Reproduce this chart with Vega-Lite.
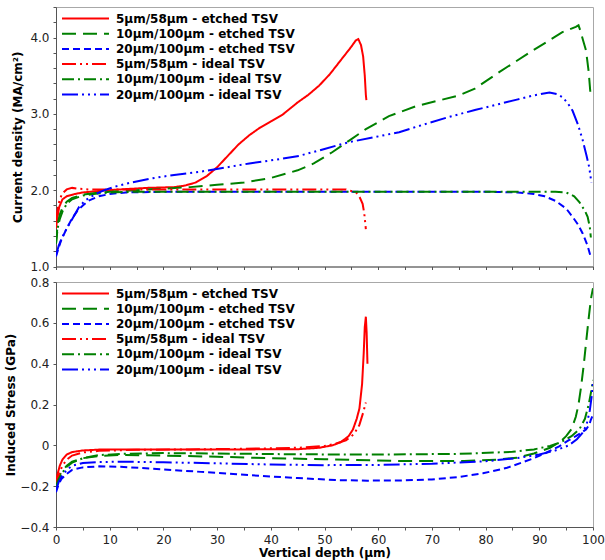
{
"$schema": "https://vega.github.io/schema/vega-lite/v6.json",
"padding": {"left": 4, "top": 6, "right": 8, "bottom": 1},
"bounds": "flush",
"spacing": 15,
"config": {
  "font": "DejaVu Sans",
  "view": {"stroke": "#a8a8a8", "strokeWidth": 1},
  "axis": {"labelFont": "DejaVu Sans", "labelFontSize": 12, "labelColor": "#222", "titleFont": "DejaVu Sans", "titleFontSize": 12, "titleFontWeight": "bold", "titleColor": "#000", "domainColor": "#555", "tickColor": "#555", "grid": false, "tickSize": 3, "labelPadding": 4, "labelFlush": false},
  "legend": {"orient": "top-left", "offset": 5, "padding": 0, "title": null, "symbolType": "stroke", "symbolSize": 2209, "symbolStrokeWidth": 2, "clipHeight": 13, "rowPadding": 2.2, "labelFont": "DejaVu Sans", "labelFontSize": 12, "labelFontWeight": "bold", "labelColor": "#000", "labelOffset": 6, "labelLimit": 400}
},
"datasets": {
"top": [
{"series":"5µm/58µm - etched TSV","depth":0,"value":1.50},
{"series":"5µm/58µm - etched TSV","depth":0.3,"value":1.66},
{"series":"5µm/58µm - etched TSV","depth":0.6,"value":1.78},
{"series":"5µm/58µm - etched TSV","depth":1.2,"value":1.88},
{"series":"5µm/58µm - etched TSV","depth":2,"value":1.92},
{"series":"5µm/58µm - etched TSV","depth":3.5,"value":1.95},
{"series":"5µm/58µm - etched TSV","depth":5,"value":1.97},
{"series":"5µm/58µm - etched TSV","depth":8,"value":1.99},
{"series":"5µm/58µm - etched TSV","depth":12,"value":2.01},
{"series":"5µm/58µm - etched TSV","depth":17,"value":2.03},
{"series":"5µm/58µm - etched TSV","depth":22,"value":2.04},
{"series":"5µm/58µm - etched TSV","depth":24,"value":2.06},
{"series":"5µm/58µm - etched TSV","depth":26,"value":2.10},
{"series":"5µm/58µm - etched TSV","depth":28,"value":2.18},
{"series":"5µm/58µm - etched TSV","depth":30,"value":2.30},
{"series":"5µm/58µm - etched TSV","depth":32,"value":2.45},
{"series":"5µm/58µm - etched TSV","depth":34,"value":2.60},
{"series":"5µm/58µm - etched TSV","depth":36,"value":2.72},
{"series":"5µm/58µm - etched TSV","depth":38,"value":2.82},
{"series":"5µm/58µm - etched TSV","depth":40,"value":2.90},
{"series":"5µm/58µm - etched TSV","depth":42.2,"value":2.99},
{"series":"5µm/58µm - etched TSV","depth":45,"value":3.15},
{"series":"5µm/58µm - etched TSV","depth":47,"value":3.25},
{"series":"5µm/58µm - etched TSV","depth":49,"value":3.37},
{"series":"5µm/58µm - etched TSV","depth":51,"value":3.52},
{"series":"5µm/58µm - etched TSV","depth":53,"value":3.70},
{"series":"5µm/58µm - etched TSV","depth":55,"value":3.88},
{"series":"5µm/58µm - etched TSV","depth":55.8,"value":3.96},
{"series":"5µm/58µm - etched TSV","depth":56.3,"value":3.98},
{"series":"5µm/58µm - etched TSV","depth":56.8,"value":3.90},
{"series":"5µm/58µm - etched TSV","depth":57.2,"value":3.75},
{"series":"5µm/58µm - etched TSV","depth":57.5,"value":3.50},
{"series":"5µm/58µm - etched TSV","depth":57.7,"value":3.25},
{"series":"5µm/58µm - etched TSV","depth":57.8,"value":3.18},
{"series":"10µm/100µm - etched TSV","depth":0,"value":1.30},
{"series":"10µm/100µm - etched TSV","depth":0.3,"value":1.55},
{"series":"10µm/100µm - etched TSV","depth":0.7,"value":1.68},
{"series":"10µm/100µm - etched TSV","depth":1.2,"value":1.77},
{"series":"10µm/100µm - etched TSV","depth":2,"value":1.85},
{"series":"10µm/100µm - etched TSV","depth":3,"value":1.90},
{"series":"10µm/100µm - etched TSV","depth":5,"value":1.94},
{"series":"10µm/100µm - etched TSV","depth":7,"value":1.96},
{"series":"10µm/100µm - etched TSV","depth":10,"value":1.98},
{"series":"10µm/100µm - etched TSV","depth":15,"value":2.00},
{"series":"10µm/100µm - etched TSV","depth":20,"value":2.02},
{"series":"10µm/100µm - etched TSV","depth":25,"value":2.04},
{"series":"10µm/100µm - etched TSV","depth":30,"value":2.07},
{"series":"10µm/100µm - etched TSV","depth":35,"value":2.10},
{"series":"10µm/100µm - etched TSV","depth":40,"value":2.16},
{"series":"10µm/100µm - etched TSV","depth":45,"value":2.26},
{"series":"10µm/100µm - etched TSV","depth":48,"value":2.35},
{"series":"10µm/100µm - etched TSV","depth":51.5,"value":2.50},
{"series":"10µm/100µm - etched TSV","depth":54.6,"value":2.65},
{"series":"10µm/100µm - etched TSV","depth":57.7,"value":2.80},
{"series":"10µm/100µm - etched TSV","depth":62,"value":2.97},
{"series":"10µm/100µm - etched TSV","depth":67,"value":3.10},
{"series":"10µm/100µm - etched TSV","depth":71,"value":3.17},
{"series":"10µm/100µm - etched TSV","depth":75,"value":3.24},
{"series":"10µm/100µm - etched TSV","depth":78,"value":3.33},
{"series":"10µm/100µm - etched TSV","depth":82.6,"value":3.55},
{"series":"10µm/100µm - etched TSV","depth":88.8,"value":3.83},
{"series":"10µm/100µm - etched TSV","depth":94.3,"value":4.07},
{"series":"10µm/100µm - etched TSV","depth":96.8,"value":4.14},
{"series":"10µm/100µm - etched TSV","depth":97.3,"value":4.16},
{"series":"10µm/100µm - etched TSV","depth":97.6,"value":4.10},
{"series":"10µm/100µm - etched TSV","depth":98.2,"value":3.95},
{"series":"10µm/100µm - etched TSV","depth":98.7,"value":3.83},
{"series":"10µm/100µm - etched TSV","depth":99.2,"value":3.55},
{"series":"10µm/100µm - etched TSV","depth":99.6,"value":3.20},
{"series":"20µm/100µm - etched TSV","depth":0,"value":1.13},
{"series":"20µm/100µm - etched TSV","depth":0.5,"value":1.25},
{"series":"20µm/100µm - etched TSV","depth":1,"value":1.35},
{"series":"20µm/100µm - etched TSV","depth":2,"value":1.50},
{"series":"20µm/100µm - etched TSV","depth":3,"value":1.63},
{"series":"20µm/100µm - etched TSV","depth":4,"value":1.73},
{"series":"20µm/100µm - etched TSV","depth":5,"value":1.80},
{"series":"20µm/100µm - etched TSV","depth":6,"value":1.86},
{"series":"20µm/100µm - etched TSV","depth":8,"value":1.92},
{"series":"20µm/100µm - etched TSV","depth":10,"value":1.95},
{"series":"20µm/100µm - etched TSV","depth":13,"value":1.97},
{"series":"20µm/100µm - etched TSV","depth":20,"value":1.98},
{"series":"20µm/100µm - etched TSV","depth":40,"value":1.98},
{"series":"20µm/100µm - etched TSV","depth":60,"value":1.98},
{"series":"20µm/100µm - etched TSV","depth":80,"value":1.98},
{"series":"20µm/100µm - etched TSV","depth":86,"value":1.97},
{"series":"20µm/100µm - etched TSV","depth":89,"value":1.95},
{"series":"20µm/100µm - etched TSV","depth":91,"value":1.92},
{"series":"20µm/100µm - etched TSV","depth":93,"value":1.86},
{"series":"20µm/100µm - etched TSV","depth":95,"value":1.76},
{"series":"20µm/100µm - etched TSV","depth":96.2,"value":1.65},
{"series":"20µm/100µm - etched TSV","depth":97.2,"value":1.55},
{"series":"20µm/100µm - etched TSV","depth":98.1,"value":1.43},
{"series":"20µm/100µm - etched TSV","depth":99,"value":1.27},
{"series":"20µm/100µm - etched TSV","depth":99.6,"value":1.12},
{"series":"5µm/58µm - ideal TSV","depth":0,"value":1.60},
{"series":"5µm/58µm - ideal TSV","depth":0.3,"value":1.75},
{"series":"5µm/58µm - ideal TSV","depth":0.7,"value":1.88},
{"series":"5µm/58µm - ideal TSV","depth":1.2,"value":1.96},
{"series":"5µm/58µm - ideal TSV","depth":2,"value":2.01},
{"series":"5µm/58µm - ideal TSV","depth":3,"value":2.03},
{"series":"5µm/58µm - ideal TSV","depth":4,"value":2.02},
{"series":"5µm/58µm - ideal TSV","depth":6,"value":2.01},
{"series":"5µm/58µm - ideal TSV","depth":10,"value":2.01},
{"series":"5µm/58µm - ideal TSV","depth":20,"value":2.01},
{"series":"5µm/58µm - ideal TSV","depth":30,"value":2.01},
{"series":"5µm/58µm - ideal TSV","depth":40,"value":2.01},
{"series":"5µm/58µm - ideal TSV","depth":50,"value":2.01},
{"series":"5µm/58µm - ideal TSV","depth":54,"value":2.01},
{"series":"5µm/58µm - ideal TSV","depth":55.9,"value":1.97},
{"series":"5µm/58µm - ideal TSV","depth":56.6,"value":1.90},
{"series":"5µm/58µm - ideal TSV","depth":57.1,"value":1.82},
{"series":"5µm/58µm - ideal TSV","depth":57.4,"value":1.70},
{"series":"5µm/58µm - ideal TSV","depth":57.7,"value":1.49},
{"series":"10µm/100µm - ideal TSV","depth":0,"value":1.30},
{"series":"10µm/100µm - ideal TSV","depth":0.3,"value":1.50},
{"series":"10µm/100µm - ideal TSV","depth":0.7,"value":1.62},
{"series":"10µm/100µm - ideal TSV","depth":1.2,"value":1.72},
{"series":"10µm/100µm - ideal TSV","depth":2,"value":1.82},
{"series":"10µm/100µm - ideal TSV","depth":3,"value":1.88},
{"series":"10µm/100µm - ideal TSV","depth":5,"value":1.93},
{"series":"10µm/100µm - ideal TSV","depth":7,"value":1.95},
{"series":"10µm/100µm - ideal TSV","depth":10,"value":1.97},
{"series":"10µm/100µm - ideal TSV","depth":15,"value":1.98},
{"series":"10µm/100µm - ideal TSV","depth":30,"value":1.98},
{"series":"10µm/100µm - ideal TSV","depth":50,"value":1.98},
{"series":"10µm/100µm - ideal TSV","depth":70,"value":1.98},
{"series":"10µm/100µm - ideal TSV","depth":90,"value":1.98},
{"series":"10µm/100µm - ideal TSV","depth":93,"value":1.98},
{"series":"10µm/100µm - ideal TSV","depth":95,"value":1.97},
{"series":"10µm/100µm - ideal TSV","depth":96.5,"value":1.92},
{"series":"10µm/100µm - ideal TSV","depth":97.5,"value":1.84},
{"series":"10µm/100µm - ideal TSV","depth":98.5,"value":1.73},
{"series":"10µm/100µm - ideal TSV","depth":99,"value":1.65},
{"series":"10µm/100µm - ideal TSV","depth":99.4,"value":1.52},
{"series":"10µm/100µm - ideal TSV","depth":99.6,"value":1.38},
{"series":"20µm/100µm - ideal TSV","depth":0,"value":1.15},
{"series":"20µm/100µm - ideal TSV","depth":0.5,"value":1.27},
{"series":"20µm/100µm - ideal TSV","depth":1,"value":1.36},
{"series":"20µm/100µm - ideal TSV","depth":2,"value":1.50},
{"series":"20µm/100µm - ideal TSV","depth":3,"value":1.62},
{"series":"20µm/100µm - ideal TSV","depth":4.3,"value":1.78},
{"series":"20µm/100µm - ideal TSV","depth":5.5,"value":1.87},
{"series":"20µm/100µm - ideal TSV","depth":7.4,"value":1.95},
{"series":"20µm/100µm - ideal TSV","depth":9,"value":2.00},
{"series":"20µm/100µm - ideal TSV","depth":11.2,"value":2.05},
{"series":"20µm/100µm - ideal TSV","depth":14,"value":2.10},
{"series":"20µm/100µm - ideal TSV","depth":17.4,"value":2.15},
{"series":"20µm/100µm - ideal TSV","depth":22,"value":2.20},
{"series":"20µm/100µm - ideal TSV","depth":26.7,"value":2.24},
{"series":"20µm/100µm - ideal TSV","depth":31,"value":2.29},
{"series":"20µm/100µm - ideal TSV","depth":36,"value":2.35},
{"series":"20µm/100µm - ideal TSV","depth":41,"value":2.40},
{"series":"20µm/100µm - ideal TSV","depth":45.3,"value":2.45},
{"series":"20µm/100µm - ideal TSV","depth":50,"value":2.54},
{"series":"20µm/100µm - ideal TSV","depth":54.6,"value":2.63},
{"series":"20µm/100µm - ideal TSV","depth":59,"value":2.69},
{"series":"20µm/100µm - ideal TSV","depth":63.9,"value":2.76},
{"series":"20µm/100µm - ideal TSV","depth":68,"value":2.85},
{"series":"20µm/100µm - ideal TSV","depth":73.2,"value":2.96},
{"series":"20µm/100µm - ideal TSV","depth":78,"value":3.05},
{"series":"20µm/100µm - ideal TSV","depth":82.6,"value":3.13},
{"series":"20µm/100µm - ideal TSV","depth":86,"value":3.19},
{"series":"20µm/100µm - ideal TSV","depth":88.8,"value":3.24},
{"series":"20µm/100µm - ideal TSV","depth":91.9,"value":3.28},
{"series":"20µm/100µm - ideal TSV","depth":93.3,"value":3.26},
{"series":"20µm/100µm - ideal TSV","depth":94.3,"value":3.22},
{"series":"20µm/100µm - ideal TSV","depth":95.3,"value":3.14},
{"series":"20µm/100µm - ideal TSV","depth":96.2,"value":3.04},
{"series":"20µm/100µm - ideal TSV","depth":97.2,"value":2.86},
{"series":"20µm/100µm - ideal TSV","depth":98.1,"value":2.65},
{"series":"20µm/100µm - ideal TSV","depth":98.8,"value":2.45},
{"series":"20µm/100µm - ideal TSV","depth":99.3,"value":2.30},
{"series":"20µm/100µm - ideal TSV","depth":99.7,"value":2.10}
],
"bottom": [
{"series":"5µm/58µm - etched TSV","depth":0,"value":-0.18},
{"series":"5µm/58µm - etched TSV","depth":0.3,"value":-0.14},
{"series":"5µm/58µm - etched TSV","depth":0.7,"value":-0.10},
{"series":"5µm/58µm - etched TSV","depth":1.2,"value":-0.07},
{"series":"5µm/58µm - etched TSV","depth":2,"value":-0.045},
{"series":"5µm/58µm - etched TSV","depth":3,"value":-0.033},
{"series":"5µm/58µm - etched TSV","depth":5,"value":-0.025},
{"series":"5µm/58µm - etched TSV","depth":8,"value":-0.021},
{"series":"5µm/58µm - etched TSV","depth":15,"value":-0.02},
{"series":"5µm/58µm - etched TSV","depth":25,"value":-0.02},
{"series":"5µm/58µm - etched TSV","depth":35,"value":-0.02},
{"series":"5µm/58µm - etched TSV","depth":45,"value":-0.019},
{"series":"5µm/58µm - etched TSV","depth":49,"value":-0.012},
{"series":"5µm/58µm - etched TSV","depth":51.5,"value":0.0},
{"series":"5µm/58µm - etched TSV","depth":53,"value":0.015},
{"series":"5µm/58µm - etched TSV","depth":54.5,"value":0.045},
{"series":"5µm/58µm - etched TSV","depth":55.3,"value":0.078},
{"series":"5µm/58µm - etched TSV","depth":56,"value":0.13},
{"series":"5µm/58µm - etched TSV","depth":56.5,"value":0.18},
{"series":"5µm/58µm - etched TSV","depth":57,"value":0.30},
{"series":"5µm/58µm - etched TSV","depth":57.3,"value":0.45},
{"series":"5µm/58µm - etched TSV","depth":57.5,"value":0.58},
{"series":"5µm/58µm - etched TSV","depth":57.7,"value":0.63},
{"series":"5µm/58µm - etched TSV","depth":57.85,"value":0.55},
{"series":"5µm/58µm - etched TSV","depth":58,"value":0.40},
{"series":"10µm/100µm - etched TSV","depth":0,"value":-0.20},
{"series":"10µm/100µm - etched TSV","depth":0.5,"value":-0.16},
{"series":"10µm/100µm - etched TSV","depth":1,"value":-0.13},
{"series":"10µm/100µm - etched TSV","depth":2,"value":-0.10},
{"series":"10µm/100µm - etched TSV","depth":3,"value":-0.08},
{"series":"10µm/100µm - etched TSV","depth":5,"value":-0.063},
{"series":"10µm/100µm - etched TSV","depth":8,"value":-0.052},
{"series":"10µm/100µm - etched TSV","depth":12,"value":-0.047},
{"series":"10µm/100µm - etched TSV","depth":20,"value":-0.05},
{"series":"10µm/100µm - etched TSV","depth":30,"value":-0.056},
{"series":"10µm/100µm - etched TSV","depth":40,"value":-0.063},
{"series":"10µm/100µm - etched TSV","depth":50,"value":-0.068},
{"series":"10µm/100µm - etched TSV","depth":64,"value":-0.077},
{"series":"10µm/100µm - etched TSV","depth":76,"value":-0.077},
{"series":"10µm/100µm - etched TSV","depth":82,"value":-0.07},
{"series":"10µm/100µm - etched TSV","depth":86,"value":-0.06},
{"series":"10µm/100µm - etched TSV","depth":89,"value":-0.04},
{"series":"10µm/100µm - etched TSV","depth":92,"value":-0.012},
{"series":"10µm/100µm - etched TSV","depth":94,"value":0.02},
{"series":"10µm/100µm - etched TSV","depth":95,"value":0.045},
{"series":"10µm/100µm - etched TSV","depth":96,"value":0.08},
{"series":"10µm/100µm - etched TSV","depth":96.8,"value":0.14},
{"series":"10µm/100µm - etched TSV","depth":97.3,"value":0.20},
{"series":"10µm/100µm - etched TSV","depth":97.8,"value":0.29},
{"series":"10µm/100µm - etched TSV","depth":98.3,"value":0.40},
{"series":"10µm/100µm - etched TSV","depth":98.7,"value":0.50},
{"series":"10µm/100µm - etched TSV","depth":99.1,"value":0.60},
{"series":"10µm/100µm - etched TSV","depth":99.4,"value":0.67},
{"series":"10µm/100µm - etched TSV","depth":99.7,"value":0.73},
{"series":"10µm/100µm - etched TSV","depth":100,"value":0.77},
{"series":"20µm/100µm - etched TSV","depth":0,"value":-0.23},
{"series":"20µm/100µm - etched TSV","depth":0.5,"value":-0.19},
{"series":"20µm/100µm - etched TSV","depth":1,"value":-0.165},
{"series":"20µm/100µm - etched TSV","depth":2,"value":-0.14},
{"series":"20µm/100µm - etched TSV","depth":3,"value":-0.12},
{"series":"20µm/100µm - etched TSV","depth":5,"value":-0.108},
{"series":"20µm/100µm - etched TSV","depth":8,"value":-0.103},
{"series":"20µm/100µm - etched TSV","depth":12,"value":-0.105},
{"series":"20µm/100µm - etched TSV","depth":20,"value":-0.118},
{"series":"20µm/100µm - etched TSV","depth":27,"value":-0.13},
{"series":"20µm/100µm - etched TSV","depth":33,"value":-0.14},
{"series":"20µm/100µm - etched TSV","depth":40,"value":-0.153},
{"series":"20µm/100µm - etched TSV","depth":45,"value":-0.16},
{"series":"20µm/100µm - etched TSV","depth":52,"value":-0.17},
{"series":"20µm/100µm - etched TSV","depth":58,"value":-0.173},
{"series":"20µm/100µm - etched TSV","depth":64,"value":-0.172},
{"series":"20µm/100µm - etched TSV","depth":70,"value":-0.167},
{"series":"20µm/100µm - etched TSV","depth":75,"value":-0.155},
{"series":"20µm/100µm - etched TSV","depth":79.5,"value":-0.137},
{"series":"20µm/100µm - etched TSV","depth":84,"value":-0.11},
{"series":"20µm/100µm - etched TSV","depth":88.8,"value":-0.065},
{"series":"20µm/100µm - etched TSV","depth":91,"value":-0.04},
{"series":"20µm/100µm - etched TSV","depth":93.7,"value":-0.005},
{"series":"20µm/100µm - etched TSV","depth":95.5,"value":0.025},
{"series":"20µm/100µm - etched TSV","depth":96.8,"value":0.045},
{"series":"20µm/100µm - etched TSV","depth":98,"value":0.065},
{"series":"20µm/100µm - etched TSV","depth":98.7,"value":0.078},
{"series":"20µm/100µm - etched TSV","depth":99.3,"value":0.10},
{"series":"20µm/100µm - etched TSV","depth":99.6,"value":0.125},
{"series":"20µm/100µm - etched TSV","depth":100,"value":0.15},
{"series":"5µm/58µm - ideal TSV","depth":0,"value":-0.20},
{"series":"5µm/58µm - ideal TSV","depth":0.3,"value":-0.17},
{"series":"5µm/58µm - ideal TSV","depth":0.7,"value":-0.13},
{"series":"5µm/58µm - ideal TSV","depth":1.2,"value":-0.10},
{"series":"5µm/58µm - ideal TSV","depth":2,"value":-0.07},
{"series":"5µm/58µm - ideal TSV","depth":3,"value":-0.05},
{"series":"5µm/58µm - ideal TSV","depth":5,"value":-0.035},
{"series":"5µm/58µm - ideal TSV","depth":8,"value":-0.027},
{"series":"5µm/58µm - ideal TSV","depth":15,"value":-0.022},
{"series":"5µm/58µm - ideal TSV","depth":25,"value":-0.02},
{"series":"5µm/58µm - ideal TSV","depth":35,"value":-0.017},
{"series":"5µm/58µm - ideal TSV","depth":45,"value":-0.012},
{"series":"5µm/58µm - ideal TSV","depth":50,"value":-0.003},
{"series":"5µm/58µm - ideal TSV","depth":52,"value":0.008},
{"series":"5µm/58µm - ideal TSV","depth":54,"value":0.025},
{"series":"5µm/58µm - ideal TSV","depth":55.5,"value":0.055},
{"series":"5µm/58µm - ideal TSV","depth":56.5,"value":0.10},
{"series":"5µm/58µm - ideal TSV","depth":57.2,"value":0.16},
{"series":"5µm/58µm - ideal TSV","depth":57.7,"value":0.21},
{"series":"10µm/100µm - ideal TSV","depth":0,"value":-0.20},
{"series":"10µm/100µm - ideal TSV","depth":0.5,"value":-0.165},
{"series":"10µm/100µm - ideal TSV","depth":1,"value":-0.14},
{"series":"10µm/100µm - ideal TSV","depth":2,"value":-0.105},
{"series":"10µm/100µm - ideal TSV","depth":3,"value":-0.085},
{"series":"10µm/100µm - ideal TSV","depth":5,"value":-0.063},
{"series":"10µm/100µm - ideal TSV","depth":8,"value":-0.048},
{"series":"10µm/100µm - ideal TSV","depth":12,"value":-0.042},
{"series":"10µm/100µm - ideal TSV","depth":20,"value":-0.038},
{"series":"10µm/100µm - ideal TSV","depth":30,"value":-0.04},
{"series":"10µm/100µm - ideal TSV","depth":45,"value":-0.044},
{"series":"10µm/100µm - ideal TSV","depth":60,"value":-0.045},
{"series":"10µm/100µm - ideal TSV","depth":75,"value":-0.042},
{"series":"10µm/100µm - ideal TSV","depth":85,"value":-0.032},
{"series":"10µm/100µm - ideal TSV","depth":89,"value":-0.02},
{"series":"10µm/100µm - ideal TSV","depth":92,"value":-0.003},
{"series":"10µm/100µm - ideal TSV","depth":94,"value":0.015},
{"series":"10µm/100µm - ideal TSV","depth":96,"value":0.045},
{"series":"10µm/100µm - ideal TSV","depth":97.5,"value":0.08},
{"series":"10µm/100µm - ideal TSV","depth":98.5,"value":0.13},
{"series":"10µm/100µm - ideal TSV","depth":99.2,"value":0.20},
{"series":"10µm/100µm - ideal TSV","depth":99.7,"value":0.27},
{"series":"10µm/100µm - ideal TSV","depth":100,"value":0.32},
{"series":"20µm/100µm - ideal TSV","depth":0,"value":-0.22},
{"series":"20µm/100µm - ideal TSV","depth":0.5,"value":-0.18},
{"series":"20µm/100µm - ideal TSV","depth":1,"value":-0.155},
{"series":"20µm/100µm - ideal TSV","depth":2,"value":-0.12},
{"series":"20µm/100µm - ideal TSV","depth":3,"value":-0.10},
{"series":"20µm/100µm - ideal TSV","depth":5,"value":-0.087},
{"series":"20µm/100µm - ideal TSV","depth":8,"value":-0.082},
{"series":"20µm/100µm - ideal TSV","depth":12,"value":-0.08},
{"series":"20µm/100µm - ideal TSV","depth":20,"value":-0.083},
{"series":"20µm/100µm - ideal TSV","depth":30,"value":-0.088},
{"series":"20µm/100µm - ideal TSV","depth":40,"value":-0.094},
{"series":"20µm/100µm - ideal TSV","depth":50,"value":-0.097},
{"series":"20µm/100µm - ideal TSV","depth":60,"value":-0.096},
{"series":"20µm/100µm - ideal TSV","depth":70,"value":-0.09},
{"series":"20µm/100µm - ideal TSV","depth":80,"value":-0.078},
{"series":"20µm/100µm - ideal TSV","depth":86,"value":-0.062},
{"series":"20µm/100µm - ideal TSV","depth":90,"value":-0.045},
{"series":"20µm/100µm - ideal TSV","depth":93,"value":-0.025},
{"series":"20µm/100µm - ideal TSV","depth":95.5,"value":0.0},
{"series":"20µm/100µm - ideal TSV","depth":97,"value":0.03},
{"series":"20µm/100µm - ideal TSV","depth":98,"value":0.06},
{"series":"20µm/100µm - ideal TSV","depth":98.8,"value":0.10},
{"series":"20µm/100µm - ideal TSV","depth":99.4,"value":0.17},
{"series":"20µm/100µm - ideal TSV","depth":99.8,"value":0.25},
{"series":"20µm/100µm - ideal TSV","depth":100,"value":0.31}
]
},
"resolve": {"scale": {"color": "independent", "strokeDash": "independent"}, "legend": {"color": "independent", "strokeDash": "independent"}},
"vconcat": [
{
  "width": 537, "height": 259.5,
  "data": {"name": "top"},
  "mark": {"type": "line", "strokeWidth": 2, "clip": true},
  "encoding": {
    "x": {"field": "depth", "type": "quantitative", "scale": {"domain": [0, 100], "nice": false}, "axis": {"labels": false, "title": null, "values": [0,5,10,15,20,25,30,35,40,45,50,55,60,65,70,75,80,85,90,95,100]}},
    "y": {"field": "value", "type": "quantitative", "scale": {"domain": [1, 4.4], "nice": false, "zero": false}, "axis": {"title": "Current density (MA/cm²)", "titlePadding": 5, "values": [1,1.2,1.4,1.6,1.8,2,2.2,2.4,2.6,2.8,3,3.2,3.4,3.6,3.8,4,4.2,4.4], "labelExpr": "abs(datum.value - round(datum.value)) < 0.001 ? format(datum.value, '.1f') : ''"}},
    "color": {"field": "series", "type": "nominal", "scale": {"domain": ["5µm/58µm - etched TSV","10µm/100µm - etched TSV","20µm/100µm - etched TSV","5µm/58µm - ideal TSV","10µm/100µm - ideal TSV","20µm/100µm - ideal TSV"], "range": ["#ff0000","#008000","#0000ff","#ff0000","#008000","#0000ff"]}},
    "strokeDash": {"field": "series", "type": "nominal", "scale": {"domain": ["5µm/58µm - etched TSV","10µm/100µm - etched TSV","20µm/100µm - etched TSV","5µm/58µm - ideal TSV","10µm/100µm - ideal TSV","20µm/100µm - ideal TSV"], "range": [[1,0],[14,7],[7,4],[14,4,2,4,2,4],[12,4,2,4],[16,4,2,4,2,4,2,4]]}}
  }
},
{
  "width": 537, "height": 245,
  "data": {"name": "bottom"},
  "mark": {"type": "line", "strokeWidth": 2, "clip": true},
  "encoding": {
    "x": {"field": "depth", "type": "quantitative", "scale": {"domain": [0, 100], "nice": false}, "axis": {"title": "Vertical depth (µm)", "titlePadding": 2, "values": [0,5,10,15,20,25,30,35,40,45,50,55,60,65,70,75,80,85,90,95,100], "labelExpr": "datum.value % 10 == 0 ? datum.label : ''"}},
    "y": {"field": "value", "type": "quantitative", "scale": {"domain": [-0.4, 0.8], "nice": false, "zero": false}, "axis": {"title": "Induced Stress (GPa)", "titlePadding": 2, "values": [-0.4,-0.2,0,0.2,0.4,0.6,0.8], "labelExpr": "datum.value == 0 ? '0' : format(datum.value, '.1f')"}},
    "color": {"field": "series", "type": "nominal", "scale": {"domain": ["5µm/58µm - etched TSV","10µm/100µm - etched TSV","20µm/100µm - etched TSV","5µm/58µm - ideal TSV","10µm/100µm - ideal TSV","20µm/100µm - ideal TSV"], "range": ["#ff0000","#008000","#0000ff","#ff0000","#008000","#0000ff"]}},
    "strokeDash": {"field": "series", "type": "nominal", "scale": {"domain": ["5µm/58µm - etched TSV","10µm/100µm - etched TSV","20µm/100µm - etched TSV","5µm/58µm - ideal TSV","10µm/100µm - ideal TSV","20µm/100µm - ideal TSV"], "range": [[1,0],[14,7],[7,4],[14,4,2,4,2,4],[12,4,2,4],[16,4,2,4,2,4,2,4]]}}
  }
}
]
}
